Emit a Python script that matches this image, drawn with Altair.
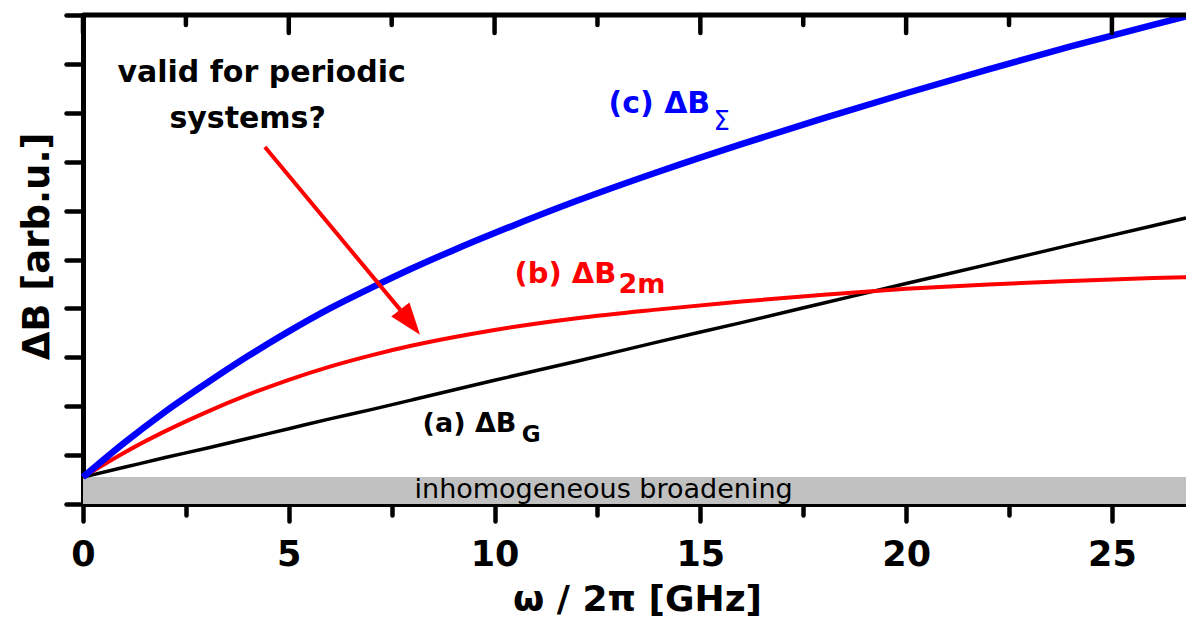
import altair as alt
import pandas as pd

# ---- data ----
freq   = [0, 1, 2, 3, 4, 5, 6, 7, 8, 9, 10, 12, 14, 16, 18, 20, 22, 24, 26, 26.8]
dB_G   = [0.55, 0.75, 0.95, 1.14, 1.34, 1.54, 1.74, 1.93, 2.13, 2.33, 2.53, 2.92, 3.32, 3.71, 4.11, 4.51, 4.90, 5.30, 5.69, 5.85]
dB_2m  = [0.55, 1.05, 1.49, 1.88, 2.23, 2.54, 2.81, 3.04, 3.24, 3.41, 3.56, 3.80, 3.98, 4.14, 4.28, 4.40, 4.49, 4.56, 4.62, 4.64]
dB_sum = [0.55, 1.25, 1.89, 2.47, 3.02, 3.53, 4.00, 4.42, 4.82, 5.19, 5.54, 6.20, 6.80, 7.36, 7.89, 8.40, 8.89, 9.36, 9.80, 9.97]

band_top = 0.55          # inhomogeneous broadening level
x_max = 26.8
y_max = 10

x_major = [0, 5, 10, 15, 20, 25]
x_minor = [2.5, 7.5, 12.5, 17.5, 22.5]
x_ticks = sorted(x_major + x_minor)
y_ticks = list(range(0, 11))

arrow_x = [4.42, 7.71]
arrow_y = [7.30, 3.97]
arrow_head = (7.95, 3.72)

FONT = "DejaVu Sans"
W, H = 1103, 489

# ---- tables ----
df_G = pd.DataFrame({"f": freq, "v": dB_G})
df_2m = pd.DataFrame({"f": freq, "v": dB_2m})
df_sum = pd.DataFrame({"f": freq, "v": dB_sum})
df_band = pd.DataFrame({"f": [0], "f2": [x_max], "v": [0], "v2": [band_top]})
df_arrow = pd.DataFrame({"f": arrow_x, "v": arrow_y})
df_head = pd.DataFrame({"f": [arrow_head[0]], "v": [arrow_head[1]]})
df_major = pd.DataFrame({"f": x_major})
df_minor = pd.DataFrame({"f": x_minor})

xs = alt.Scale(domain=[0, x_max], nice=False, zero=False)
ys = alt.Scale(domain=[0, y_max], nice=False, zero=False)

major_test = "datum.value % 5 == 0"

bottom_axis = alt.Axis(
    orient="bottom", values=x_ticks, grid=False,
    labelExpr=f"{major_test} ? datum.label : ''",
    tickSize={"condition": {"test": major_test, "value": 17}, "value": 11},
    tickWidth=4.5, tickColor="black", tickCap="round",
    domainWidth=5, domainColor="black", domainCap="square",
    labelFont=FONT, labelFontWeight="bold", labelFontSize=35, labelColor="black",
    labelPadding=16, labelFlush=False, labelOverlap=False,
    title="ω / 2π [GHz]", titleFont=FONT, titleFontWeight="bold", titleFontSize=36,
    titleColor="black", titleX=554, titleY=106, titleBaseline="alphabetic",
    titleAlign="center", titleAnchor="start",
)

left_axis = alt.Axis(
    orient="left", values=y_ticks, grid=False, labels=False,
    tickSize=17, tickWidth=4.5, tickColor="black", tickCap="round",
    domainWidth=5, domainColor="black", domainCap="square",
    title="ΔB [arb.u.]", titleFont=FONT, titleFontWeight="bold", titleFontSize=37,
    titleColor="black", titleAngle=270, titleX=-35, titleY=231,
    titleBaseline="alphabetic", titleAlign="center", titleAnchor="start",
)

X = alt.X("f:Q", scale=xs, axis=bottom_axis)
Y = alt.Y("v:Q", scale=ys, axis=left_axis)

band = alt.Chart(df_band).mark_rect(color="#c0c0c0").encode(
    x=X, x2="f2:Q", y=Y, y2="v2:Q")

# top frame line with inward ticks
top_line = alt.Chart(df_band).mark_rule(color="black", strokeWidth=5).encode(
    x=X, x2=alt.value(W), y=alt.value(0))
top_major = alt.Chart(df_major).mark_rule(color="black", strokeWidth=4.5, strokeCap="round").encode(
    x=X, y=alt.value(0), y2=alt.value(18))
top_minor = alt.Chart(df_minor).mark_rule(color="black", strokeWidth=4.5, strokeCap="round").encode(
    x=X, y=alt.value(0), y2=alt.value(10))

line_G = alt.Chart(df_G).mark_line(color="black", strokeWidth=3.5, interpolate="monotone").encode(x=X, y=Y)
line_2m = alt.Chart(df_2m).mark_line(color="#ff0000", strokeWidth=4, interpolate="monotone").encode(x=X, y=Y)
line_sum = alt.Chart(df_sum).mark_line(color="#0000ff", strokeWidth=6.5, interpolate="monotone").encode(x=X, y=Y)

arrow = alt.Chart(df_arrow).mark_line(color="#ff0000", strokeWidth=4).encode(x=X, y=Y)
head = alt.Chart(df_head).mark_point(
    shape="M0,-1L0.72,1L-0.72,1Z", size=1024, angle=142, filled=True,
    color="#ff0000", opacity=1, strokeWidth=0).encode(x=X, y=Y)


def label(x, y, text, color="black", size=28, weight="bold", align="left"):
    d = pd.DataFrame({"f": [x], "v": [y], "t": [text]})
    return alt.Chart(d).mark_text(
        font=FONT, fontSize=size, fontWeight=weight, color=color,
        align=align, baseline="alphabetic").encode(x=X, y=Y, text="t:N")


labels = [
    label(12.65, 0.12, "inhomogeneous broadening", size=27, weight="normal", align="center"),
    label(4.34, 8.63, "valid for periodic", size=30, align="center"),
    label(4.00, 7.69, "systems?", size=30, align="center"),
    label(15.24, 8.00, "(c) ΔB", color="#0000ff", size=30, align="right"),
    label(15.32, 7.65, "Σ", color="#0000ff", size=26, weight="normal"),
    label(12.96, 4.52, "(b) ΔB", color="#ff0000", size=29, align="right"),
    label(13.01, 4.31, "2m", color="#ff0000", size=27),
    label(10.53, 1.47, "(a) ΔB", color="black", size=27, align="right"),
    label(10.66, 1.27, "G", color="black", size=23),
]

chart = alt.layer(
    band, line_G, line_2m, line_sum, arrow, head, top_line, top_major, top_minor, *labels
).properties(
    width=W, height=H,
    autosize=alt.AutoSizeParams(type="none"),
    padding={"left": 83, "top": 15, "right": 0, "bottom": 113},
    background="white",
).configure_view(stroke="transparent")

chart.save("out.html", embed_options={"renderer": "svg", "actions": False})
